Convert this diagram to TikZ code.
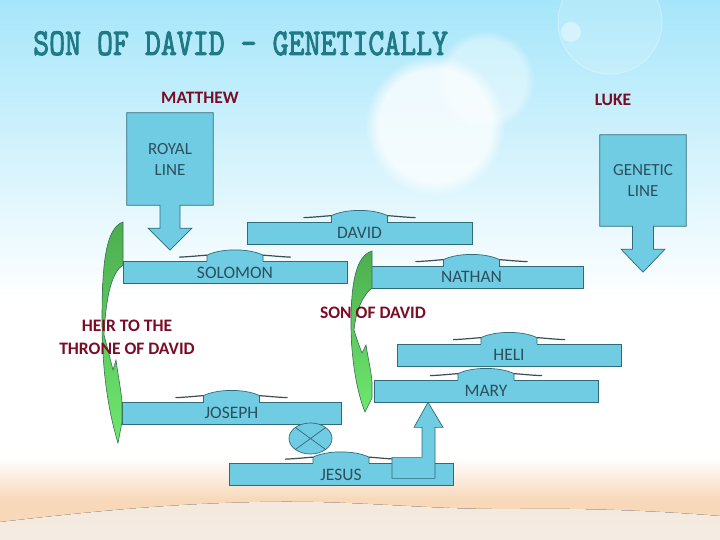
\documentclass[tikz,border=0pt]{standalone}
\usepackage{fontspec}
\usepackage{graphicx}
\setmainfont{Carlito}
\newfontfamily\titlefont{lmmono10-regular.otf}[FakeBold=2.5]
\usetikzlibrary{calc,shapes.geometric,fadings}
\definecolor{barfill}{HTML}{70CCE2}
\definecolor{bardraw}{HTML}{2F6B7A}
\definecolor{bartext}{HTML}{2C4F5E}
\definecolor{redtext}{HTML}{7B0C26}
\definecolor{titlecol}{HTML}{1F7A86}
\definecolor{leaftop}{HTML}{4CAE4F}
\definecolor{leafbot}{HTML}{6EE86E}
\definecolor{leafline}{HTML}{3C6B57}
\definecolor{sky}{HTML}{A6E6FA}
\definecolor{sandor}{HTML}{F7D8B8}
\definecolor{sandpale}{HTML}{F4ECE4}
\definecolor{slivercol}{HTML}{3B4D55}
\pgfdeclarelayer{back}
\pgfdeclarelayer{mid}
\pgfsetlayers{back,mid,main}
\newcommand\barhump[1]{%
  \fill[barfill] ($(#1.north)+(-27.6,1.2)$) rectangle ($(#1.north)+(27.6,-1)$);
  \filldraw[fill=barfill, draw=bardraw, line width=0.7pt]
    ($(#1.north)+(-28,0.3)$) -- ++(0,-6.3) .. controls +(14,-7) and +(-14,-7) .. ++(56,0) -- ++(0,6.3);
  \draw[sliver] ($(#1.north)+(-56,-4)$) .. controls +(12,-0.5) and +(-8,0.5) .. ($(#1.north)+(-28,-6)$);
  \draw[sliver] ($(#1.north)+(56,-4)$) .. controls +(-12,-0.5) and +(8,0.5) .. ($(#1.north)+(28,-6)$);
}
\begin{document}
\begin{tikzpicture}[x=1pt,y=-1pt,
  bar/.style={draw=bardraw, fill=barfill, line width=0.7pt, minimum width=224pt,
    minimum height=22pt, inner sep=0pt, text=bartext, font=\fontsize{17.5}{18}\selectfont},
  boxnode/.style={minimum width=86pt, minimum height=92pt, inner sep=0pt, align=center,
    text=bartext, font=\fontsize{17}{21}\selectfont},
  shp/.style={draw=bardraw, fill=barfill, line width=0.7pt, line join=miter},
  lbl/.style={text=redtext, inner sep=0pt, font=\bfseries\fontsize{17.5}{23}\selectfont},
  sliver/.style={draw=slivercol, line width=1.2pt},
  leaf/.style={draw=leafline, line width=0.6pt, top color=leaftop, bottom color=leafbot}]
\useasboundingbox (0,0) rectangle (720,540);
% ---------- background ----------
\begin{pgfonlayer}{back}
\fill[white] (0,0) rectangle (720,540);
\fill[top color=sky, bottom color=white] (0,0) rectangle (720,300);
\fill[white, opacity=0.75, path fading=circle with fuzzy edge 20 percent] (435,125) circle [radius=70pt];
\fill[white, opacity=0.4, path fading=circle with fuzzy edge 20 percent] (485,80) circle [radius=50pt];
\fill[white, opacity=0.15] (610,22) circle [radius=52pt];
\draw[white, opacity=0.3, line width=1pt] (610,22) circle [radius=52pt];
\fill[white, opacity=0.4] (571,32) circle [radius=10pt];
\fill[top color=white, bottom color=sandor] (0,458) rectangle (720,500);
\fill[sandor] (0,500) rectangle (720,540);
\fill[top color=sandpale!80!sandor, bottom color=sandpale]
  (0,522) .. controls (80,513) and (160,504) .. (260,502)
  .. controls (360,500) and (420,510) .. (520,509)
  .. controls (600,508) and (670,512) .. (720,516) -- (720,540) -- (0,540) -- cycle;
\end{pgfonlayer}
% ---------- title and labels ----------
\node[anchor=base west, text=titlecol, inner sep=0pt] (title) at (33,55)
  {\titlefont\fontsize{38}{38}\selectfont\scalebox{0.8}[1]{SON OF DAVID - GENETICALLY}};
\node[lbl] (matthew) at (200,98) {MATTHEW};
\node[lbl] (luke) at (613,100) {LUKE};
% ---------- callout boxes ----------
\node[boxnode] (royal) at (170,159) {ROYAL\\LINE};
\node[boxnode, minimum height=91pt] (genetic) at (643,180.5) {GENETIC\\LINE};
\begin{pgfonlayer}{mid}
\filldraw[shp] (royal.north west) -- (royal.north east) -- (royal.south east)
  -- ([xshift=10pt]royal.south) -- ++(0,23) -- ++(12,0) -- ++(-22,22) -- ++(-22,-22)
  -- ++(12,0) -- ([xshift=-10pt]royal.south) -- (royal.south west) -- cycle;
\filldraw[shp] (genetic.north west) -- (genetic.north east) -- (genetic.south east)
  -- ([xshift=10.5pt]genetic.south) -- ++(0,23) -- ++(11.5,0) -- ++(-22,23) -- ++(-22,-23)
  -- ++(11.5,0) -- ([xshift=-10.5pt]genetic.south) -- (genetic.south west) -- cycle;
\end{pgfonlayer}
% ---------- bars ----------
\node[bar, minimum width=225pt] (david) at (359.5,233) {DAVID};
\barhump{david}
\node[bar] (solomon) at (235,272.5) {SOLOMON};
\barhump{solomon}
\node[bar, minimum width=223pt] (nathan) at (471.5,277) {NATHAN};
\barhump{nathan}
\node[bar] (heli) at (509,355) {HELI};
\barhump{heli}
\node[bar] (mary) at (486,391) {MARY};
\barhump{mary}
\node[bar, minimum width=219pt] (joseph) at (231.5,413) {JOSEPH};
\barhump{joseph}
\node[ellipse, draw=bardraw, fill=barfill, line width=0.7pt, minimum width=43pt,
  minimum height=31pt, inner sep=0pt] (link) at (310.5,438.5) {};
\draw[bardraw, line width=0.7pt] (link.north west) -- (link.south east)
  (link.north east) -- (link.south west);
\node[bar] (jesus) at (341,474.5) {JESUS};
\barhump{jesus}
% bent-up arrow from JESUS to MARY
\filldraw[shp] ([xshift=-58pt]mary.south) -- ++(15,25) -- ++(-8,0) -- ++(0,51)
  -- ++(-43,0) -- ++(0,-21) -- ++(30,0) -- ++(0,-30) -- ++(-8,0) -- cycle;
% ---------- green curved shapes ----------
\path[leaf] (123,222) -- (123,265) .. controls (112,272) and (106,295) .. (104,335)
  .. controls (108,350) and (111,362) .. (113,370) -- (116,360)
  .. controls (118,375) and (121,390) .. (122,402) -- (122,422) -- (118,443)
  .. controls (108,410) and (102,370) .. (102,320)
  .. controls (102,262) and (106,228) .. (123,222) -- cycle;
\path[leaf] (372,251) -- (372,288) .. controls (363,295) and (356,310) .. (354,330)
  .. controls (357,340) and (360,348) .. (362,353) -- (366,345)
  .. controls (368,358) and (371,370) .. (372,382) -- (372,398) -- (365,412)
  .. controls (356,390) and (351,355) .. (351,325)
  .. controls (351,282) and (356,256) .. (372,251) -- cycle;
% ---------- red labels ----------
\node[lbl, align=center] (heir) at (127,337.5) {HEIR TO THE\\THRONE OF DAVID};
\node[lbl] (sonlbl) at (373,313) {SON OF DAVID};
\end{tikzpicture}
\end{document}
